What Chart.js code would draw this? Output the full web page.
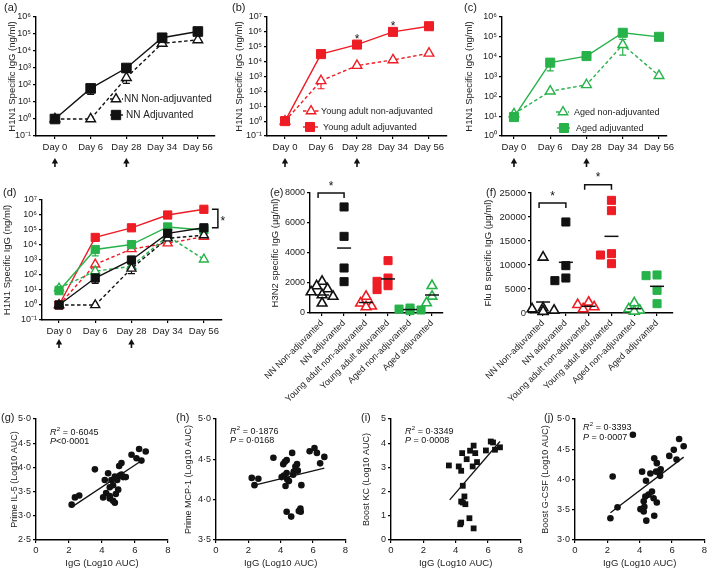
<!DOCTYPE html>
<html><head><meta charset="utf-8">
<script src="https://cdn.jsdelivr.net/npm/chart.js@4/dist/chart.umd.min.js"></script>
<style>
body{margin:0;background:#fff;width:709px;height:570px;position:relative;overflow:hidden;font-family:"Liberation Sans",Arial,Helvetica,sans-serif}
canvas{position:absolute}
.pl{position:absolute;font-size:11px;line-height:12px;color:#222;white-space:nowrap}
</style></head><body>
<canvas id="ca"></canvas><canvas id="cb"></canvas><canvas id="cc"></canvas>
<canvas id="cd"></canvas><canvas id="ce"></canvas><canvas id="cf"></canvas>
<canvas id="cg"></canvas><canvas id="ch"></canvas><canvas id="ci"></canvas><canvas id="cj"></canvas>
<div class="pl" style="left:4px;top:1px">(a)</div>
<div class="pl" style="left:232px;top:1px">(b)</div>
<div class="pl" style="left:464px;top:1px">(c)</div>
<div class="pl" style="left:3px;top:186px">(d)</div>
<div class="pl" style="left:270px;top:186px">(e)</div>
<div class="pl" style="left:486px;top:186px">(f)</div>
<div class="pl" style="left:1px;top:411px">(g)</div>
<div class="pl" style="left:176px;top:411px">(h)</div>
<div class="pl" style="left:361px;top:411px">(i)</div>
<div class="pl" style="left:544px;top:411px">(j)</div>
<script>
// ================= DATA =================
const days = ['Day 0', 'Day 6', 'Day 28', 'Day 34', 'Day 56'];
const nnNon = [1, 1, 270, 28000, 45000];
const nnAdj = [1, 63, 1000, 60000, 140000];
const yaNon = [1, 510, 5400, 13000, 36000];
const yaAdj = [1, 32000, 140000, 1000000, 2400000];
const agNon = [13, 180, 380, 40000, 1100];
const agAdj = [9, 5000, 10700, 160000, 100000];
// error-bar ends (null = none visible)
const nnNonLo = [null, null, 125, 19000, 33000];
const nnNonHi = [null, null, 600, null, null];
const nnAdjLo = [null, 28, 550, null, null];
const yaNonLo = [null, 150, null, null, null];
const agNonLo = [null, null, null, 12000, null];
const agNonHi = [null, null, null, 74000, null];
const agAdjLo = [null, 1900, null, null, null];
const agAdjHi = [18, null, null, null, null];
const yaStarDays = [2, 3];
const immunisationDays = [0, 2];
const decadesA = [0.1, 1, 10, 100, 1e3, 1e4, 1e5, 1e6];
const decadesB = [0.1, 1, 10, 100, 1e3, 1e4, 1e5, 1e6, 1e7];
const decadesC = [1, 10, 100, 1e3, 1e4, 1e5, 1e6];

const groups = ['NN Non-adjuvanted', 'NN adjuvanted', 'Young adult non-adjuvanted', 'Young adult adjuvanted', 'Aged non-adjuvanted', 'Aged adjuvanted'];
const h3n2 = [
  [2100, 1800, 1600, 1400, 1200, 1100, 650],
  [7070, 5110, 3000, 2090],
  [1100, 650, 450, 400],
  [3490, 2330, 2110, 1820, 1560],
  [330, 260, 200, 160],
  [1820, 1110, 670]
];
const h3n2Mean = [1200, 4330, 700, 2270, 230, 1200];
const flub = [
  [11600, 1040, 830, 550, 350, 300],
  [18960, 9860, 7290, 6740],
  [2220, 1740, 1250, 830],
  [23470, 21320, 12360, 12080, 10280],
  [2080, 830, 550, 350],
  [7920, 7780, 4720, 1940]
];
const flubMean = [2290, 10560, 1390, 15970, 900, 5560];

const gX = [2.16,2.36,2.62,3.57,4.07,4.17,4.37,4.25,4.47,4.57,4.47,4.67,4.47,4.78,4.84,4.98,4.67,4.78,4.92,5.08,5.18,5.28,5.04,5.18,5.44,5.79,6.09,6.25,6.39,6.65];
const gY = [3.23,3.38,3.42,3.96,3.38,3.74,3.88,3.47,3.41,3.74,3.59,3.63,3.36,3.81,3.45,3.54,3.31,3.27,3.74,3.83,3.85,3.80,4.03,4.09,3.80,4.26,4.19,4.38,4.14,4.33];
const gFit = [2.16, 3.18, 6.53, 4.17];
const hX = [2.21,2.38,2.62,3.55,4.16,4.26,4.37,4.06,4.20,4.37,4.41,4.51,4.30,4.71,4.91,5.01,4.81,5.06,5.28,4.37,4.65,5.12,5.22,5.24,5.79,6.09,6.24,6.44,6.70,4.77];
const hY = [4.27,4.18,4.26,4.52,4.44,4.47,4.49,4.28,4.30,4.33,4.25,4.23,4.17,4.58,4.41,4.44,4.35,4.36,4.18,3.85,3.79,3.86,3.89,3.85,4.60,4.64,4.58,4.45,4.53,4.31];
const hFit = [2.21, 4.17, 6.70, 4.39];
const iX = [3.58,4.19,4.40,4.34,4.68,4.89,5.11,5.21,5.05,5.32,5.87,6.17,6.31,6.43,6.74,4.44,4.54,4.44,4.60,4.34,4.85,4.34,4.28,5.11];
const iY = [3.08,3.04,3.59,2.86,3.34,3.69,3.90,3.59,3.04,3.22,3.70,4.07,4.03,3.73,3.83,2.24,1.80,1.55,1.48,1.59,0.90,0.72,0.65,0.48];
const iFit = [3.63, 1.66, 6.74, 4.07];
const jX = [2.19,2.33,2.63,3.58,4.15,4.05,4.25,4.29,4.41,4.39,4.55,4.66,4.76,4.86,4.90,4.90,5.06,5.06,5.22,5.26,5.30,5.02,4.35,4.25,5.83,6.11,6.28,6.44,6.72];
const jY = [3.36,4.05,3.54,4.74,4.13,3.51,3.47,3.55,3.32,3.98,3.75,4.10,3.80,3.69,4.35,3.40,4.27,3.62,4.13,4.06,4.17,4.13,3.72,3.64,4.39,4.49,4.33,4.67,4.55];
const jFit = [2.19, 3.45, 6.72, 4.37];
const stats = {
  g: ['0·6045', '<0·0001'], h: ['0·1876', ' = 0·0168'],
  i: ['0·3349', ' = 0·0008'], j: ['0·3393', ' = 0·0007']
};

// ================= STYLE / HELPERS =================
const FONT = '"Liberation Sans", Arial, Helvetica, sans-serif';
const BLK = '#111111', RED = '#ee1c24', GRN = '#27b24a';
Chart.defaults.font.family = FONT;
Chart.defaults.color = '#222';
Chart.defaults.animation = false;

const SUP = {'-':'⁻','0':'⁰','1':'¹','2':'²','3':'³','4':'⁴','5':'⁵','6':'⁶','7':'⁷','8':'⁸','9':'⁹'};
const pow10 = v => '10' + String(Math.round(Math.log10(v))).split('').map(c => SUP[c]).join('');
const dot = (v, d) => v.toFixed(d).replace('.', '·');

const DECOR = {};

function drawMarker(ctx, m, x, y, r, color, lw) {
  ctx.save(); ctx.setLineDash([]);
  ctx.lineWidth = lw; ctx.strokeStyle = color;
  ctx.beginPath();
  if (m === 'tri') {
    ctx.fillStyle = '#fff';
    let a = 0;
    ctx.moveTo(x + Math.sin(a) * r, y - Math.cos(a) * r);
    a += 2 * Math.PI / 3; ctx.lineTo(x + Math.sin(a) * r, y - Math.cos(a) * r);
    a += 2 * Math.PI / 3; ctx.lineTo(x + Math.sin(a) * r, y - Math.cos(a) * r);
    ctx.closePath(); ctx.fill(); ctx.stroke();
  } else {
    ctx.fillStyle = color;
    const s = r * Math.SQRT1_2;
    ctx.rect(x - s, y - s, 2 * s, 2 * s); ctx.fill(); ctx.stroke();
  }
  ctx.restore();
}

function star(ctx, x, baseY) {
  ctx.save();
  ctx.fillStyle = BLK; ctx.font = '12px ' + FONT; ctx.textAlign = 'center'; ctx.textBaseline = 'alphabetic';
  ctx.fillText('*', x, baseY);
  ctx.restore();
}

Chart.register({
  id: 'decor',
  beforeDatasetsDraw(chart) {
    const d = DECOR[chart.canvas.id]; if (!d) return;
    const ctx = chart.ctx, xs = chart.scales.x, ys = chart.scales.y;
    ctx.save(); ctx.setLineDash([]);
    chart.data.datasets.forEach(ds => {
      if (!ds.errLo && !ds.errHi) return;
      ctx.strokeStyle = ds.borderColor; ctx.lineWidth = 1.2;
      ds.data.forEach((p, i) => {
        const px = xs.getPixelForValue(p.x), py = ys.getPixelForValue(p.y);
        [ds.errLo && ds.errLo[i], ds.errHi && ds.errHi[i]].forEach(e => {
          if (e == null) return;
          const ey = ys.getPixelForValue(e);
          ctx.beginPath(); ctx.moveTo(px, py); ctx.lineTo(px, ey);
          ctx.moveTo(px - 3.5, ey); ctx.lineTo(px + 3.5, ey); ctx.stroke();
        });
      });
    });
    if (d.fit) {
      const f = d.fit;
      ctx.strokeStyle = BLK; ctx.lineWidth = 1.3;
      ctx.beginPath();
      ctx.moveTo(xs.getPixelForValue(f[0]), ys.getPixelForValue(f[1]));
      ctx.lineTo(xs.getPixelForValue(f[2]), ys.getPixelForValue(f[3]));
      ctx.stroke();
    }
    ctx.restore();
  },
  afterDatasetsDraw(chart) {
    const d = DECOR[chart.canvas.id]; if (!d) return;
    const ctx = chart.ctx, xs = chart.scales.x, ys = chart.scales.y, cv = d.cv;
    ctx.save(); ctx.setLineDash([]);
    if (d.means) {
      ctx.strokeStyle = BLK; ctx.lineWidth = 1.5;
      d.means.forEach((m, i) => {
        const px = xs.getPixelForValue(i), py = ys.getPixelForValue(m);
        ctx.beginPath(); ctx.moveTo(px - 7, py); ctx.lineTo(px + 7, py); ctx.stroke();
      });
    }
    if (d.arrows) {
      ctx.fillStyle = BLK; ctx.strokeStyle = BLK;
      d.arrows.forEach(i => {
        const px = xs.getPixelForValue(i), top = chart.chartArea.bottom + d.arrowDy;
        ctx.beginPath(); ctx.moveTo(px, top); ctx.lineTo(px + 3.2, top + 5.5); ctx.lineTo(px - 3.2, top + 5.5); ctx.closePath(); ctx.fill();
        ctx.lineWidth = 1.6; ctx.beginPath(); ctx.moveTo(px, top + 4); ctx.lineTo(px, top + 9); ctx.stroke();
      });
    }
    if (d.legend) {
      d.legend.forEach(it => {
        const y = it.y - cv.T;
        ctx.save();
        ctx.strokeStyle = it.color; ctx.lineWidth = 1.4; ctx.setLineDash(it.m === 'tri' ? [3.5, 2.5] : []);
        ctx.beginPath(); ctx.moveTo(it.x0 - cv.L, y); ctx.lineTo(it.x1 - cv.L, y); ctx.stroke();
        ctx.restore();
        drawMarker(ctx, it.m, it.mx - cv.L, y, it.r, it.color, it.m === 'tri' ? 1.4 : 1);
        ctx.fillStyle = '#222'; ctx.font = it.fs + 'px ' + FONT; ctx.textAlign = 'left'; ctx.textBaseline = 'middle';
        ctx.fillText(it.text, it.tx - cv.L, y + 0.5);
      });
    }
    if (d.stars) {
      d.stars.forEach(s => star(ctx, xs.getPixelForValue(s.x), ys.getPixelForValue(s.y) - 2));
    }
    if (d.brackets) {
      ctx.strokeStyle = BLK; ctx.lineWidth = 1.5;
      d.brackets.forEach(b => {
        const x0 = xs.getPixelForValue(b.i0) - 4, x1 = xs.getPixelForValue(b.i1) + 0, y = ys.getPixelForValue(b.v);
        ctx.beginPath(); ctx.moveTo(x0, y + 5); ctx.lineTo(x0, y); ctx.lineTo(x1, y); ctx.lineTo(x1, y + 5); ctx.stroke();
        star(ctx, (x0 + x1) / 2, y - 3.5);
      });
    }
    if (d.vbracket) {
      const b = d.vbracket;
      const x = xs.getPixelForValue(b.i) + 14, y0 = ys.getPixelForValue(b.v0), y1 = ys.getPixelForValue(b.v1);
      ctx.strokeStyle = BLK; ctx.lineWidth = 1.5;
      ctx.beginPath(); ctx.moveTo(x - 6, y0); ctx.lineTo(x, y0); ctx.lineTo(x, y1); ctx.lineTo(x - 6, y1); ctx.stroke();
      star(ctx, x + 5, (y0 + y1) / 2 + 6);
    }
    if (d.stats) {
      const s = d.stats;
      let x = s.x - cv.L; const y1 = s.y1 - cv.T, y2 = s.y2 - cv.T;
      ctx.fillStyle = '#111'; ctx.textAlign = 'left'; ctx.textBaseline = 'alphabetic';
      ctx.font = 'italic 9px ' + FONT; ctx.fillText('R', x, y1); x += ctx.measureText('R').width;
      ctx.font = '6px ' + FONT; ctx.fillText('2', x + 0.3, y1 - 3.8); x += ctx.measureText('2').width + 0.3;
      ctx.font = '9px ' + FONT; ctx.fillText(' = ' + s.r2, x, y1);
      x = s.x - cv.L;
      ctx.font = 'italic 9px ' + FONT; ctx.fillText('P', x, y2); x += ctx.measureText('P').width;
      ctx.font = '9px ' + FONT; ctx.fillText(s.p, x, y2);
    }
    ctx.restore();
  }
});

function place(id, cv) {
  const c = document.getElementById(id);
  c.style.left = cv.L + 'px'; c.style.top = cv.T + 'px';
  c.width = cv.W; c.height = cv.H; c.style.width = cv.W + 'px'; c.style.height = cv.H + 'px';
  return c;
}
function axisBase() {
  return {
    border: { display: true, color: '#000', width: 1.4 },
    grid: { display: true, drawOnChartArea: false, drawTicks: true, tickLength: 3, color: '#000', lineWidth: 1.2 }
  };
}
function mk(id, cv, pl, datasets, xOpt, yOpt, decor) {
  const c = place(id, cv);
  const xH = cv.T + cv.H - pl.b, yW = pl.l - cv.L;
  xOpt.afterFit = s => { s.height = xH; };
  yOpt.afterFit = s => { s.width = yW; };
  DECOR[id] = Object.assign({ cv }, decor || {});
  return new Chart(c, {
    type: 'scatter',
    data: { datasets },
    options: {
      responsive: false, animation: false, devicePixelRatio: 1, events: [],
      layout: { padding: { top: pl.t - cv.T, right: cv.L + cv.W - pl.r, left: 0, bottom: 0 } },
      plugins: { legend: { display: false }, tooltip: { enabled: false } },
      scales: { x: xOpt, y: yOpt }
    }
  });
}

function lineSet(vals, color, non, rSq, rTri, lo, hi) {
  return {
    data: vals.map((v, i) => ({ x: i, y: v })),
    showLine: true, borderColor: color, borderWidth: 1.4, borderDash: non ? [3.5, 2.5] : [],
    pointStyle: non ? 'triangle' : 'rect', pointRadius: non ? rTri : rSq, pointHoverRadius: 0,
    pointBackgroundColor: non ? '#fff' : color, pointBorderColor: color, pointBorderWidth: non ? 1.4 : 1,
    errLo: lo || null, errHi: hi || null, clip: false
  };
}
function dayAxis(min, max) {
  return Object.assign(axisBase(), {
    type: 'linear', min, max,
    afterBuildTicks: s => { s.ticks = days.map((d, i) => ({ value: i })); },
    ticks: { callback: v => days[v], font: { size: 9.5 }, color: '#222', padding: 3, autoSkip: false, maxRotation: 0 }
  });
}
function logAxis(decades, title, pad) {
  return Object.assign(axisBase(), {
    type: 'logarithmic', min: decades[0], max: decades[decades.length - 1],
    afterBuildTicks: s => { s.ticks = decades.map(v => ({ value: v })); },
    ticks: { callback: v => pow10(v), font: { size: 9 }, color: '#222', padding: 2 },
    title: { display: true, text: title, font: { size: 9.5 }, color: '#222', padding: { top: pad, bottom: 0 } }
  });
}

// ================= PANELS a-d =================
const T1 = 'H1N1 Specific IgG (ng/ml)';
const cvA = {L:0,T:0,W:230,H:172},  plA = {l:36,t:17,r:215,b:136};
const cvB = {L:230,T:0,W:230,H:172}, plB = {l:267,t:17,r:447,b:136};
const cvC = {L:460,T:0,W:249,H:172}, plC = {l:502,t:17,r:667,b:136};
const cvD = {L:0,T:172,W:240,H:182}, plD = {l:42,t:200,r:222,b:320};

mk('ca', cvA, plA, [
  lineSet(nnAdj, BLK, false, 6.8, 5.6, nnAdjLo, null),
  lineSet(nnNon, BLK, true, 6.8, 5.6, nnNonLo, nnNonHi)
], dayAxis(-0.53, 4.48), logAxis(decadesA, T1, 6.3), {
  arrows: immunisationDays, arrowDy: 22,
  legend: [
    { x0:110, x1:123, y:99, mx:116, tx:124, text:'NN Non-adjuvanted', color:BLK, m:'tri', r:5.4, fs:10 },
    { x0:110, x1:123, y:115, mx:116, tx:126, text:'NN Adjuvanted', color:BLK, m:'sq', r:6.6, fs:10 }
  ]
});

mk('cb', cvB, plB, [
  lineSet(yaAdj, RED, false, 6.4, 5.6, null, null),
  lineSet(yaNon, RED, true, 6.4, 5.6, yaNonLo, null)
], dayAxis(-0.5, 4.5), logAxis(decadesB, T1, 4), {
  arrows: immunisationDays, arrowDy: 22,
  stars: yaStarDays.map(i => ({ x: i, y: yaAdj[i] })),
  legend: [
    { x0:303, x1:320, y:111, mx:311, tx:321, text:'Young adult non-adjuvanted', color:RED, m:'tri', r:5.4, fs:9 },
    { x0:303, x1:318, y:127, mx:310, tx:323, text:'Young adult adjuvanted', color:RED, m:'sq', r:6.4, fs:9 }
  ]
});

mk('cc', cvC, plC, [
  lineSet(agAdj, GRN, false, 6.4, 5.6, agAdjLo, null),
  lineSet(agNon, GRN, true, 6.4, 5.6, agNonLo, agNonHi)
], dayAxis(-0.33, 4.22), logAxis(decadesC, T1, 3.3), {
  arrows: immunisationDays, arrowDy: 22,
  legend: [
    { x0:556, x1:569, y:112, mx:563, tx:574, text:'Aged non-adjuvanted', color:GRN, m:'tri', r:5.4, fs:9 },
    { x0:557, x1:570, y:128, mx:564, tx:576, text:'Aged adjuvanted', color:GRN, m:'sq', r:6.4, fs:9 }
  ]
});

mk('cd', cvD, plD, [
  lineSet(nnAdj, BLK, false, 5.8, 5.2, nnAdjLo, null),
  lineSet(nnNon, BLK, true, 5.8, 5.2, nnNonLo, null),
  lineSet(agAdj, GRN, false, 5.8, 5.2, agAdjLo, agAdjHi),
  lineSet(agNon, GRN, true, 5.8, 5.2, null, null),
  lineSet(yaAdj, RED, false, 5.8, 5.2, null, null),
  lineSet(yaNon, RED, true, 5.8, 5.2, yaNonLo, null)
], dayAxis(-0.47, 4.5), logAxis(decadesB, T1, 2), {
  arrows: immunisationDays, arrowDy: 19,
  vbracket: { i: 4, v0: yaAdj[4], v1: nnAdj[4] }
});

// ================= PANELS e-f =================
function swarm(vals, vmax, plotH, catW) {
  const placed = [], minD = 7, step = 5.5;
  return vals.map(v => {
    const py = v / vmax * plotH;
    for (const c of [0, -1, 1, -2, 2]) {
      const ox = c * step;
      if (placed.every(p => Math.hypot(p.x - ox, p.y - py) >= minD)) { placed.push({ x: ox, y: py }); return ox / catW; }
    }
    placed.push({ x: 0, y: py }); return 0;
  });
}
function stripSets(all, vmax, catW, markers) {
  const cols = [BLK, BLK, RED, RED, GRN, GRN];
  return all.map((vals, i) => {
    const offs = swarm(vals, vmax, 120, catW);
    const tri = markers[i] === 'tri';
    return {
      data: vals.map((v, k) => ({ x: i + offs[k], y: v })), showLine: false,
      pointStyle: tri ? 'triangle' : 'rect', pointRadius: tri ? 5.6 : 5.7, pointHoverRadius: 0,
      pointBackgroundColor: tri ? '#fff' : cols[i], pointBorderColor: cols[i], pointBorderWidth: tri ? 1.6 : 1, clip: false
    };
  });
}
function groupAxis(min, max) {
  return Object.assign(axisBase(), {
    type: 'linear', min, max,
    afterBuildTicks: s => { s.ticks = groups.map((g, i) => ({ value: i })); },
    ticks: { callback: v => groups[v], font: { size: 9 }, color: '#222', padding: 2, autoSkip: false, minRotation: 45, maxRotation: 45 }
  });
}
function valAxis(max, step, title, pad, fs) {
  return Object.assign(axisBase(), {
    type: 'linear', min: 0, max,
    ticks: { stepSize: step, callback: v => String(v), font: { size: fs }, color: '#222', padding: 2 },
    title: { display: true, text: title, font: { size: 9.5 }, color: '#222', padding: { top: pad, bottom: 0 } }
  });
}
const cvE = {L:240,T:172,W:228,H:240}, plE = {l:310,t:193,r:443,b:313};
const cvF = {L:468,T:172,W:241,H:240}, plF = {l:531,t:193,r:673,b:313};
mk('ce', cvE, plE, stripSets(h3n2, 8000, 22, ['tri','sq','tri','sq','sq','tri']),
  groupAxis(-0.55, 5.5), valAxis(8000, 2000, 'H3N2 specific IgG (µg/ml)', 30, 9), {
  means: h3n2Mean, brackets: [{ i0: 0, i1: 1, v: 8000 }]
});
mk('cf', cvF, plF, stripSets(flub, 25000, 22.8, ['tri','sq','tri','sq','tri','sq']),
  groupAxis(-0.53, 5.7), valAxis(25000, 5000, 'Flu B specific IgG (µg/ml)', 15, 9.5), {
  means: flubMean, brackets: [{ i0: 0, i1: 1, v: 22900 }, { i0: 2, i1: 3, v: 26700 }]
});

// ================= PANELS g-j =================
function xyAxisX() {
  return Object.assign(axisBase(), {
    type: 'linear', min: 0, max: 8,
    ticks: { stepSize: 2, font: { size: 9.5 }, color: '#222', padding: 2 },
    title: { display: true, text: 'IgG (Log10 AUC)', font: { size: 9.5 }, color: '#222', padding: { top: 0, bottom: 1 } }
  });
}
function xyAxisY(min, max, step, dec, title, pad) {
  return Object.assign(axisBase(), {
    type: 'linear', min, max,
    ticks: { stepSize: step, callback: v => dot(v, dec), font: { size: 9 }, color: '#222', padding: 2 },
    title: { display: true, text: title, font: { size: 9 }, color: '#222', padding: { top: pad, bottom: 0 } }
  });
}
function pts(xs, ys, style, r) {
  return [{
    data: xs.map((x, i) => ({ x, y: ys[i] })), showLine: false, pointStyle: style, pointRadius: r, pointHoverRadius: 0,
    pointBackgroundColor: BLK, pointBorderColor: BLK, pointBorderWidth: 0, clip: false
  }];
}
const cvG = {L:0,T:405,W:175,H:165},   plG = {l:36,t:419,r:168,b:540};
const cvH = {L:175,T:405,W:175,H:165}, plH = {l:216,t:419,r:347,b:540};
const cvI = {L:350,T:405,W:175,H:165}, plI = {l:391,t:419,r:522,b:540};
const cvJ = {L:525,T:405,W:184,H:165}, plJ = {l:575,t:419,r:707,b:540};
mk('cg', cvG, plG, pts(gX, gY, 'circle', 3.3), xyAxisX(), xyAxisY(2.5, 5, 0.5, 1, 'Prime IL-5 (Log10 AUC)', 9.5), {
  fit: gFit, stats: { x: 50, y1: 435, y2: 444, r2: stats.g[0], p: stats.g[1] }
});
mk('ch', cvH, plH, pts(hX, hY, 'circle', 3.3), xyAxisX(), xyAxisY(3.5, 5, 0.5, 1, 'Prime MCP-1 (Log10 AUC)', 8.5), {
  fit: hFit, stats: { x: 230, y1: 434, y2: 443, r2: stats.h[0], p: stats.h[1] }
});
mk('ci', cvI, plI, pts(iX, iY, 'rect', 4.1), xyAxisX(), xyAxisY(0, 5, 1, 0, 'Boost KC (Log10 AUC)', 11.3), {
  fit: iFit, stats: { x: 405, y1: 434, y2: 443, r2: stats.i[0], p: stats.i[1] }
});
mk('cj', cvJ, plJ, pts(jX, jY, 'circle', 3.3), xyAxisX(), xyAxisY(3, 5, 0.5, 1, 'Boost G-CSF (Log10 AUC)', 15.6), {
  fit: jFit, stats: { x: 583, y1: 430, y2: 440, r2: stats.j[0], p: stats.j[1] }
});
</script>
</body></html>
